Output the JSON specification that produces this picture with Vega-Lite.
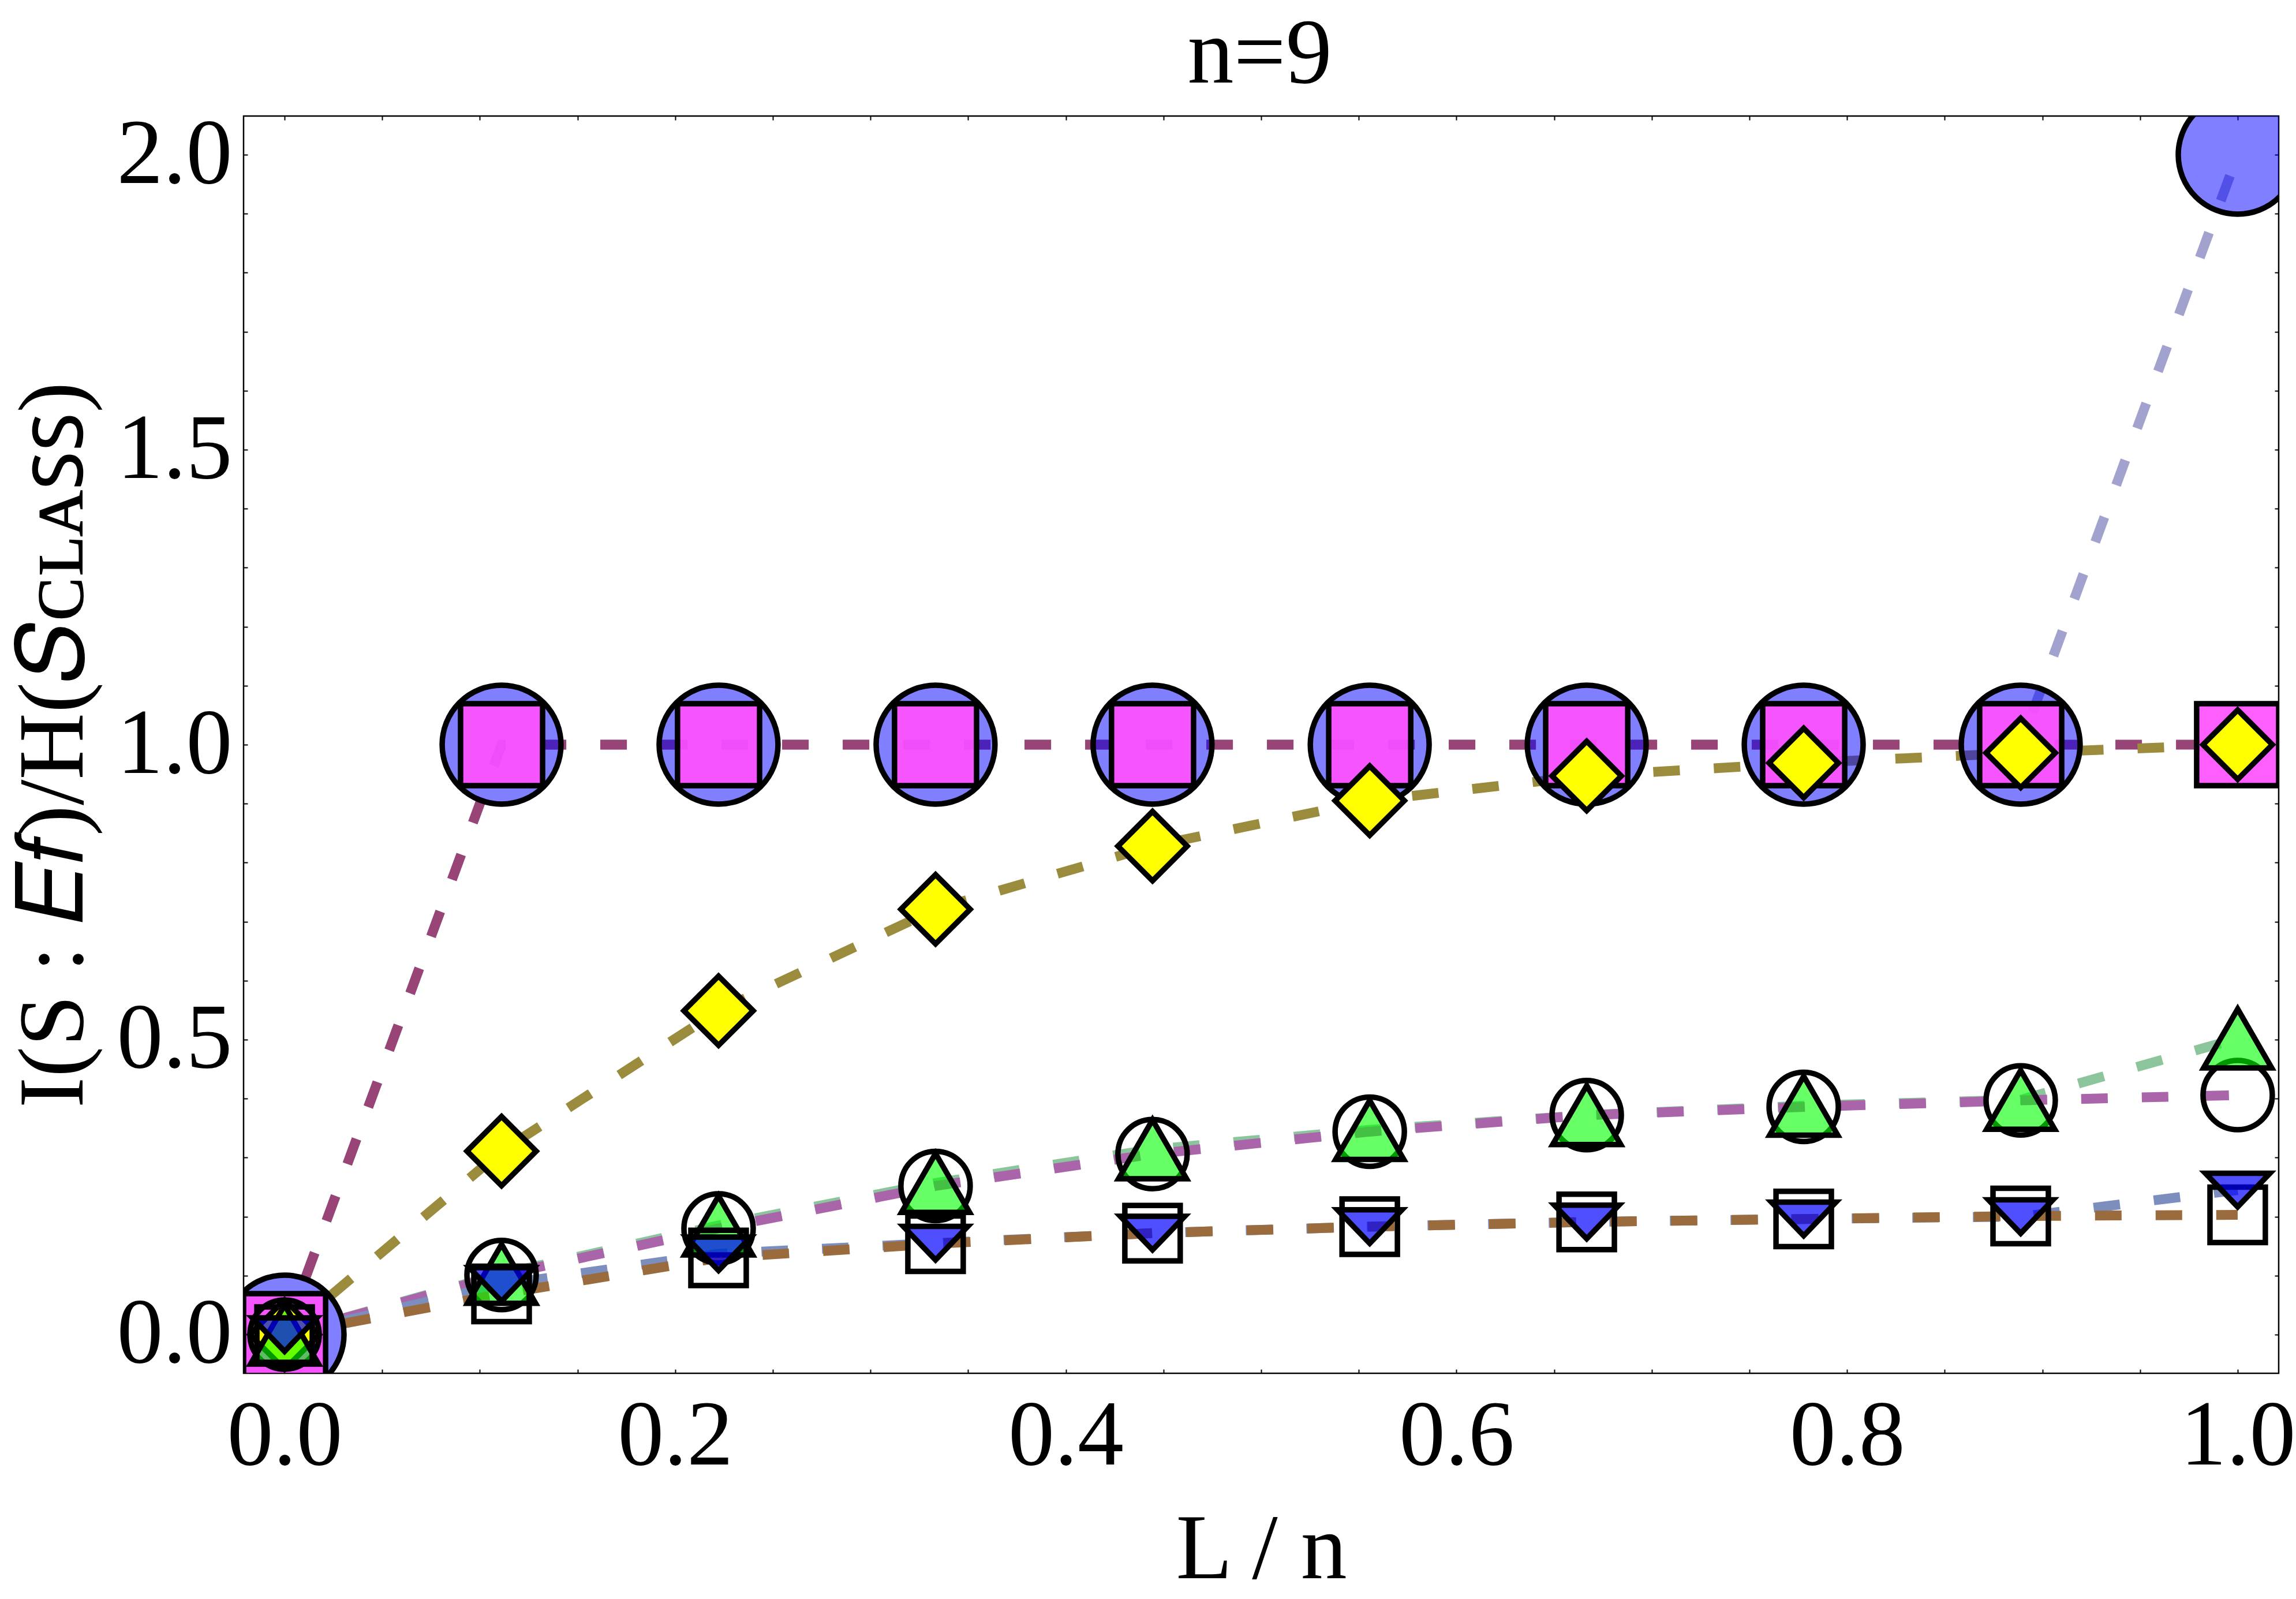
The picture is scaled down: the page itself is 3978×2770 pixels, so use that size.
{
  "$schema": "https://vega.github.io/schema/vega-lite/v6.json",
  "width": 3526,
  "height": 2178,
  "autosize": {"type": "none"},
  "padding": {"left": 422, "top": 201, "right": 30, "bottom": 391},
  "background": "white",
  "data": {
    "values": [
      {"s": "S1", "x": 0, "y": 0}, {"s": "S1", "x": 0.1111, "y": 1}, {"s": "S1", "x": 0.2222, "y": 1}, {"s": "S1", "x": 0.3333, "y": 1}, {"s": "S1", "x": 0.4444, "y": 1},
      {"s": "S1", "x": 0.5556, "y": 1}, {"s": "S1", "x": 0.6667, "y": 1}, {"s": "S1", "x": 0.7778, "y": 1}, {"s": "S1", "x": 0.8889, "y": 1}, {"s": "S1", "x": 1, "y": 2},
      {"s": "S2", "x": 0, "y": 0}, {"s": "S2", "x": 0.1111, "y": 1}, {"s": "S2", "x": 0.2222, "y": 1}, {"s": "S2", "x": 0.3333, "y": 1}, {"s": "S2", "x": 0.4444, "y": 1},
      {"s": "S2", "x": 0.5556, "y": 1}, {"s": "S2", "x": 0.6667, "y": 1}, {"s": "S2", "x": 0.7778, "y": 1}, {"s": "S2", "x": 0.8889, "y": 1}, {"s": "S2", "x": 1, "y": 1},
      {"s": "S3", "x": 0, "y": 0}, {"s": "S3", "x": 0.1111, "y": 0.311}, {"s": "S3", "x": 0.2222, "y": 0.549}, {"s": "S3", "x": 0.3333, "y": 0.721}, {"s": "S3", "x": 0.4444, "y": 0.828},
      {"s": "S3", "x": 0.5556, "y": 0.905}, {"s": "S3", "x": 0.6667, "y": 0.947}, {"s": "S3", "x": 0.7778, "y": 0.969}, {"s": "S3", "x": 0.8889, "y": 0.986}, {"s": "S3", "x": 1, "y": 1},
      {"s": "S5", "x": 0, "y": 0}, {"s": "S5", "x": 0.1111, "y": 0.103}, {"s": "S5", "x": 0.2222, "y": 0.185}, {"s": "S5", "x": 0.3333, "y": 0.257}, {"s": "S5", "x": 0.4444, "y": 0.314},
      {"s": "S5", "x": 0.5556, "y": 0.347}, {"s": "S5", "x": 0.6667, "y": 0.372}, {"s": "S5", "x": 0.7778, "y": 0.388}, {"s": "S5", "x": 0.8889, "y": 0.398}, {"s": "S5", "x": 1, "y": 0.502},
      {"s": "S4", "x": 0, "y": 0}, {"s": "S4", "x": 0.1111, "y": 0.101}, {"s": "S4", "x": 0.2222, "y": 0.18}, {"s": "S4", "x": 0.3333, "y": 0.252}, {"s": "S4", "x": 0.4444, "y": 0.306},
      {"s": "S4", "x": 0.5556, "y": 0.344}, {"s": "S4", "x": 0.6667, "y": 0.372}, {"s": "S4", "x": 0.7778, "y": 0.386}, {"s": "S4", "x": 0.8889, "y": 0.397}, {"s": "S4", "x": 1, "y": 0.406},
      {"s": "S7", "x": 0, "y": 0}, {"s": "S7", "x": 0.1111, "y": 0.085}, {"s": "S7", "x": 0.2222, "y": 0.137}, {"s": "S7", "x": 0.3333, "y": 0.155}, {"s": "S7", "x": 0.4444, "y": 0.172},
      {"s": "S7", "x": 0.5556, "y": 0.183}, {"s": "S7", "x": 0.6667, "y": 0.191}, {"s": "S7", "x": 0.7778, "y": 0.196}, {"s": "S7", "x": 0.8889, "y": 0.2}, {"s": "S7", "x": 1, "y": 0.245},
      {"s": "S6", "x": 0, "y": 0}, {"s": "S6", "x": 0.1111, "y": 0.069}, {"s": "S6", "x": 0.2222, "y": 0.13}, {"s": "S6", "x": 0.3333, "y": 0.154}, {"s": "S6", "x": 0.4444, "y": 0.172},
      {"s": "S6", "x": 0.5556, "y": 0.183}, {"s": "S6", "x": 0.6667, "y": 0.191}, {"s": "S6", "x": 0.7778, "y": 0.196}, {"s": "S6", "x": 0.8889, "y": 0.201}, {"s": "S6", "x": 1, "y": 0.203}
    ]
  },
  "layer": [
    {
      "mark": {"type": "line", "strokeWidth": 17, "strokeDash": [46, 59], "strokeCap": "butt", "clip": true},
      "encoding": {
        "x": {
          "field": "x", "type": "quantitative",
          "scale": {"domain": [-0.021, 1.021], "nice": false, "zero": false},
          "axis": {
            "orient": "bottom",
            "values": [0, 0.05, 0.1, 0.15, 0.2, 0.25, 0.3, 0.35, 0.4, 0.45, 0.5, 0.55, 0.6, 0.65, 0.7, 0.75, 0.8, 0.85, 0.9, 0.95, 1],
            "labelExpr": "abs(datum.value * 5 - round(datum.value * 5)) < 0.001 ? format(datum.value, '.1f') : ''",
            "labelBaseline": "alphabetic",
            "labelPadding": 164,
            "title": "L / n",
            "titleX": 1763,
            "titleY": 354,
            "titleBaseline": "alphabetic",
            "titleAlign": "center"
          }
        },
        "y": {
          "field": "y", "type": "quantitative",
          "scale": {"domain": [-0.0656, 2.0656], "nice": false, "zero": false},
          "axis": {
            "orient": "left",
            "values": [0, 0.1, 0.2, 0.3, 0.4, 0.5, 0.6, 0.7, 0.8, 0.9, 1, 1.1, 1.2, 1.3, 1.4, 1.5, 1.6, 1.7, 1.8, 1.9, 2],
            "labelExpr": "abs(datum.value * 2 - round(datum.value * 2)) < 0.001 ? format(datum.value, '.1f') : ''",
            "labelPadding": 27,
            "title": "I(S : 𝐸𝑓)/H(𝑆ᴄʟᴀꜱꜱ)",
            "titleX": -280,
            "titleY": 1089,
            "titleAngle": -90,
            "titleBaseline": "alphabetic",
            "titleAlign": "center"
          }
        },
        "color": {
          "field": "s", "type": "nominal",
          "scale": {
            "domain": ["S1", "S2", "S3", "S4", "S5", "S6", "S7"],
            "range": ["#A2A2CE", "#994477", "#9A8B3D", "#AA64AA", "#8CC49C", "#9A6B3D", "#7B8EBE"]
          },
          "legend": null
        }
      }
    },
    {
      "mark": {"type": "point", "filled": true, "stroke": "black", "strokeWidth": 9.5, "opacity": 1, "clip": true},
      "encoding": {
        "x": {
          "field": "x", "type": "quantitative",
          "axis": {
            "orient": "top",
            "values": [0, 0.05, 0.1, 0.15, 0.2, 0.25, 0.3, 0.35, 0.4, 0.45, 0.5, 0.55, 0.6, 0.65, 0.7, 0.75, 0.8, 0.85, 0.9, 0.95, 1],
            "labels": false,
            "title": "n=9",
            "titleX": 1760,
            "titleY": -59,
            "titleBaseline": "alphabetic",
            "titleAlign": "center"
          }
        },
        "y": {
          "field": "y", "type": "quantitative",
          "axis": {
            "orient": "right",
            "values": [0, 0.1, 0.2, 0.3, 0.4, 0.5, 0.6, 0.7, 0.8, 0.9, 1, 1.1, 1.2, 1.3, 1.4, 1.5, 1.6, 1.7, 1.8, 1.9, 2],
            "labels": false,
            "title": null
          }
        },
        "order": {"field": "s", "sort": "ascending"},
        "shape": {
          "field": "s", "type": "nominal",
          "scale": {
            "type": "ordinal",
            "domain": ["S1", "S2", "S3", "S4", "S5", "S6", "S7"],
            "range": ["circle", "square", "diamond", "circle", "M0,-0.866L1,0.866L-1,0.866Z", "square", "M-1,-0.52L1,-0.52L0,0.52Z"]
          },
          "legend": null
        },
        "size": {
          "field": "s", "type": "nominal",
          "scale": {
            "type": "ordinal",
            "domain": ["S1", "S2", "S3", "S4", "S5", "S6", "S7"],
            "range": [42400, 20200, 14400, 14400, 13900, 9200, 12500]
          },
          "legend": null
        },
        "fill": {
          "field": "s", "type": "nominal",
          "scale": {
            "type": "ordinal",
            "domain": ["S1", "S2", "S3", "S4", "S5", "S6", "S7"],
            "range": ["rgba(0,0,255,0.5)", "rgba(255,80,255,0.92)", "#FFFF00", "rgba(0,0,0,0)", "rgba(0,255,0,0.6)", "rgba(0,0,0,0)", "rgba(0,0,255,0.69)"]
          },
          "legend": null
        }
      }
    }
  ],
  "resolve": {"axis": {"x": "independent", "y": "independent"}},
  "config": {
    "font": "Liberation Serif",
    "view": {"stroke": "black", "strokeWidth": 2.5},
    "axis": {
      "domain": false,
      "grid": false,
      "ticks": true,
      "tickSize": -7,
      "tickWidth": 2,
      "tickColor": "black",
      "labelFont": "Liberation Serif",
      "labelFontSize": 160,
      "labelColor": "black",
      "labelLimit": 0,
      "labelFlush": false,
      "labelOverlap": false,
      "titleFont": "Liberation Serif",
      "titleFontSize": 160,
      "titleFontWeight": "normal",
      "titleColor": "black",
      "titleLimit": 0
    }
  }
}
